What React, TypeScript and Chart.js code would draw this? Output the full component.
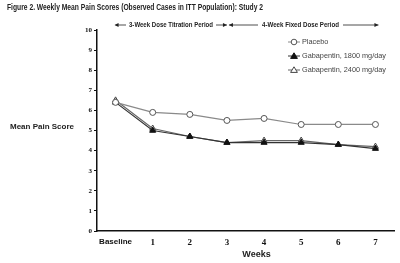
import React, { useEffect, useRef } from "react";
import { Chart, registerables } from "chart.js";
Chart.register(...registerables);

const categories = ["Baseline", "1", "2", "3", "4", "5", "6", "7"];
const placebo = [6.4, 5.9, 5.8, 5.5, 5.6, 5.3, 5.3, 5.3];
const gaba1800 = [6.4, 5.0, 4.7, 4.4, 4.4, 4.4, 4.3, 4.1];
const gaba2400 = [6.5, 5.1, 4.7, 4.4, 4.5, 4.5, 4.3, 4.2];
const seriesNames = ["Placebo", "Gabapentin, 1800 mg/day", "Gabapentin, 2400 mg/day"];
const titleText = "Figure 2. Weekly Mean Pain Scores (Observed Cases in ITT Population): Study 2";
const period1 = "3-Week Dose Titration Period";
const period2 = "4-Week Fixed Dose Period";
const yTitle = "Mean Pain Score";
const xTitle = "Weeks";

const SANS = "'Liberation Sans', Arial, sans-serif";
const NARROW = "'Liberation Sans Narrow', 'Liberation Sans', Arial, sans-serif";
const SERIF = "'Liberation Serif', 'Times New Roman', serif";

function arrowHead(ctx: CanvasRenderingContext2D, x: number, y: number, dir: number) {
  ctx.beginPath();
  ctx.moveTo(x, y);
  ctx.lineTo(x - dir * 4, y - 2);
  ctx.lineTo(x - dir * 4, y + 2);
  ctx.closePath();
  ctx.fill();
}

const decor = {
  id: "decor",
  afterDraw(chart: any) {
    const ctx: CanvasRenderingContext2D = chart.ctx;
    const xs = chart.scales.x;
    ctx.save();
    ctx.fillStyle = "#222";
    ctx.strokeStyle = "#222";
    // Title
    ctx.font = `bold 9px ${NARROW}`;
    ctx.textAlign = "left";
    ctx.textBaseline = "middle";
    ctx.fillText(titleText, 7, 8, 256);

    // Period annotations
    const y = 25;
    const xb = xs.getPixelForValue(0);
    const x3 = xs.getPixelForValue(3);
    const x7 = xs.getPixelForValue(7);
    ctx.font = `bold 7.5px ${NARROW}`;
    ctx.lineWidth = 0.8;
    const t1 = 129, w1 = 84;
    ctx.fillText(period1, t1, y, w1);
    ctx.beginPath();
    ctx.moveTo(xb, y); ctx.lineTo(t1 - 3, y);
    ctx.moveTo(t1 + w1 + 3, y); ctx.lineTo(x3, y);
    ctx.stroke();
    arrowHead(ctx, xb - 1, y, -1);
    arrowHead(ctx, x3, y, 1);
    const t2 = 262, w2 = 77;
    ctx.fillText(period2, t2, y, w2);
    ctx.beginPath();
    ctx.moveTo(x3 + 2, y); ctx.lineTo(t2 - 4, y);
    ctx.moveTo(t2 + w2 + 4, y); ctx.lineTo(x7 + 3, y);
    ctx.stroke();
    arrowHead(ctx, x3 + 2, y, -1);
    arrowHead(ctx, x7 + 3, y, 1);

    // Axis titles
    ctx.font = `bold 8px ${SANS}`;
    ctx.textAlign = "center";
    ctx.fillText(yTitle, 42, 127);
    ctx.font = `bold 9px ${SANS}`;
    ctx.fillText(xTitle, (chart.chartArea.left + chart.chartArea.right) / 2 + 11, 255);

    // Legend
    const lx = 288, lx2 = 300;
    const ly = [42, 56, 70];
    ctx.font = `7.3px ${SANS}`;
    ctx.textAlign = "left";
    chart.data.datasets.forEach((ds: any, i: number) => {
      const yy = ly[i];
      ctx.strokeStyle = ds.borderColor;
      ctx.lineWidth = 1;
      ctx.beginPath();
      ctx.moveTo(lx, yy); ctx.lineTo(lx2, yy);
      ctx.stroke();
      const cx = (lx + lx2) / 2;
      ctx.strokeStyle = ds.pointBorderColor;
      ctx.fillStyle = ds.pointBackgroundColor;
      ctx.beginPath();
      if (ds.pointStyle === "circle") {
        ctx.arc(cx, yy, 2.8, 0, Math.PI * 2);
      } else {
        ctx.moveTo(cx, yy - 3.2);
        ctx.lineTo(cx + 3.4, yy + 2.4);
        ctx.lineTo(cx - 3.4, yy + 2.4);
        ctx.closePath();
      }
      ctx.fill();
      ctx.stroke();
      ctx.fillStyle = "#444";
      ctx.fillText(ds.label, 302, yy);
    });
    ctx.restore();
  },
};

export default function App() {
  const ref = useRef<HTMLCanvasElement | null>(null);
  useEffect(() => {
    if (!ref.current) return;
    const chart = new Chart(ref.current, {
      type: "line",
      data: {
        labels: categories,
        datasets: [
          {
            label: seriesNames[0],
            data: placebo,
            borderColor: "#8a8a8a",
            borderWidth: 1.2,
            pointStyle: "circle",
            pointRadius: 3,
            pointBackgroundColor: "#ffffff",
            pointBorderColor: "#555",
            pointBorderWidth: 1,
          },
          {
            label: seriesNames[1],
            data: gaba1800,
            borderColor: "#333",
            borderWidth: 1.2,
            pointStyle: "triangle",
            pointRadius: 3.5,
            pointBackgroundColor: "#111",
            pointBorderColor: "#111",
            pointBorderWidth: 1,
          },
          {
            label: seriesNames[2],
            data: gaba2400,
            borderColor: "#666",
            borderWidth: 1.2,
            pointStyle: "triangle",
            pointRadius: 3.5,
            pointBackgroundColor: "#ffffff",
            pointBorderColor: "#444",
            pointBorderWidth: 1,
          },
        ] as any,
      },
      options: {
        animation: false,
        responsive: false,
        maintainAspectRatio: false,
        layout: { padding: { left: 0, right: 6, top: 30, bottom: 0 } },
        plugins: { legend: { display: false }, title: { display: false }, tooltip: { enabled: false } },
        scales: {
          x: {
            type: "category",
            offset: true,
            grid: { display: false, drawTicks: false, tickLength: 0 },
            border: { display: true, color: "#111", width: 1.5 },
            ticks: {
              color: "#111",
              padding: 6,
              maxRotation: 0,
              font: ((c: any) =>
                c.index === 0
                  ? { family: SANS, size: 8, weight: "bold" }
                  : { family: SERIF, size: 9, weight: "bold" }) as any,
            },
            afterFit: (s: any) => { s.height = 32; },
          },
          y: {
            min: 0,
            max: 10,
            ticks: { stepSize: 1, color: "#111", padding: 2, font: { family: SERIF, size: 7, weight: "bold" } },
            grid: { drawOnChartArea: false, drawTicks: true, tickLength: 3, color: "#111", lineWidth: 1 },
            border: { display: true, color: "#111", width: 1.5 },
            afterFit: (s: any) => { s.width = 97; },
          },
        },
      },
      plugins: [decor],
    });
    return () => chart.destroy();
  }, []);
  return (
    <div style={{ position: "fixed", left: 0, top: 0, width: 400, height: 263, background: "#fff" }}>
      <canvas ref={ref} width={400} height={263} style={{ width: 400, height: 263, display: "block" }} />
    </div>
  );
}
